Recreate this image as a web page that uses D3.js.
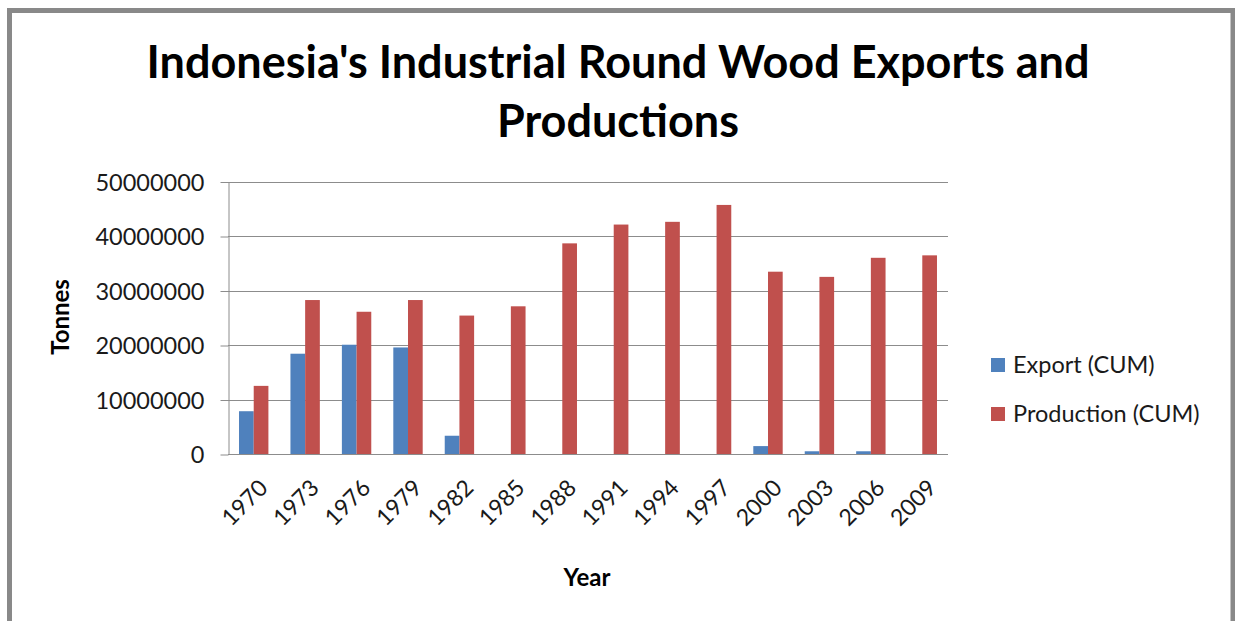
<!DOCTYPE html>
<html>
<head>
<meta charset="utf-8">
<script src="https://cdn.jsdelivr.net/npm/d3@7"></script>
<style>
  html, body { margin: 0; padding: 0; background: #fff; }
  svg { display: block; font-family: Lato, "Open Sans", sans-serif; }
</style>
</head>
<body>
<div id="chart"></div>
<script>
const years = ['1970', '1973', '1976', '1979', '1982', '1985', '1988', '1991', '1994', '1997', '2000', '2003', '2006', '2009'];
const exportCum = [7850000, 18400000, 20050000, 19550000, 3350000, 0, 0, 0, 0, 0, 1450000, 500000, 500000, 0];
const productionCum = [12500000, 28250000, 26100000, 28250000, 25400000, 27100000, 38650000, 42100000, 42600000, 45700000, 33450000, 32500000, 36000000, 36450000];
const seriesNames = ['Export (CUM)', 'Production (CUM)'];
const seriesColors = ['#4F81BD', '#C0504D'];
const yTicks = [0, 10000000, 20000000, 30000000, 40000000, 50000000];

const W = 1235, H = 621;
const plot = { left: 228, right: 948, top: 181.5, bottom: 454 };

const svg = d3.select('#chart')
  .append('svg')
  .attr('width', W)
  .attr('height', H);

svg.append('rect').attr('width', W).attr('height', H).attr('fill', '#fff');

// chart area border (bottom edge runs off the page)
svg.append('rect')
  .attr('x', 9.5).attr('y', 10.5)
  .attr('width', 1223.5).attr('height', 700)
  .attr('fill', 'none')
  .attr('stroke', '#898989')
  .attr('stroke-width', 5);

// title on two lines
const title = svg.append('text')
  .attr('text-anchor', 'middle')
  .attr('font-weight', 'bold')
  .attr('font-size', 45)
  .attr('fill', '#000');
title.append('tspan').attr('x', 618).attr('y', 78).text("Indonesia's Industrial Round Wood Exports and");
title.append('tspan').attr('x', 618).attr('y', 137).text('Productions');

const y = d3.scaleLinear()
  .domain([0, 50000000])
  .range([plot.bottom, plot.top]);

const x = d3.scaleBand()
  .domain(years)
  .range([plot.left, plot.right])
  .paddingInner(1.5 / 3.5)
  .paddingOuter(0.75 / 3.5);

const xSub = d3.scaleBand()
  .domain(seriesNames)
  .range([0, x.bandwidth()]);

// gridlines
svg.append('g')
  .selectAll('line')
  .data(yTicks.slice(1))
  .enter()
  .append('line')
  .attr('x1', plot.left).attr('x2', plot.right)
  .attr('y1', d => Math.round(y(d)) + 0.5)
  .attr('y2', d => Math.round(y(d)) + 0.5)
  .attr('stroke', '#8c8c8c')
  .attr('stroke-width', 1);

// y axis
const yAxis = svg.append('g')
  .attr('transform', `translate(${plot.left + 0.5},0.5)`)
  .call(d3.axisLeft(y).tickValues(yTicks).tickFormat(d3.format('d')).tickSize(8).tickSizeOuter(0).tickPadding(16));

yAxis.select('.domain').attr('stroke', '#8c8c8c');
yAxis.selectAll('.tick line').attr('stroke', '#8c8c8c');
yAxis.selectAll('.tick text')
  .attr('font-family', 'Lato, sans-serif')
  .attr('font-size', 23.5)
  .attr('fill', '#1a1a1a')
  .attr('dy', '0.36em');

// bars
const groups = svg.append('g')
  .selectAll('g')
  .data(years.map((yr, i) => ({ year: yr, values: [exportCum[i], productionCum[i]] })))
  .enter()
  .append('g')
  .attr('transform', d => `translate(${x(d.year)},0)`);

groups.selectAll('rect')
  .data(d => d.values.map((v, j) => ({ name: seriesNames[j], value: v, color: seriesColors[j] })))
  .enter()
  .append('rect')
  .attr('x', d => xSub(d.name))
  .attr('y', d => y(d.value))
  .attr('width', xSub.bandwidth())
  .attr('height', d => y(0) - y(d.value))
  .attr('fill', d => d.color);

// x axis line
svg.append('line')
  .attr('x1', plot.left).attr('x2', plot.right)
  .attr('y1', plot.bottom + 0.5).attr('y2', plot.bottom + 0.5)
  .attr('stroke', '#8c8c8c');

// rotated year labels
svg.append('g')
  .selectAll('text')
  .data(years)
  .enter()
  .append('text')
  .attr('transform', d => `translate(${x(d) + x.bandwidth() / 2 + 4},478) rotate(-45)`)
  .attr('text-anchor', 'end')
  .attr('dy', '0.7em')
  .attr('font-size', 23)
  .attr('fill', '#1a1a1a')
  .text(d => d);

// axis titles
svg.append('text')
  .attr('transform', 'translate(69,317) rotate(-90)')
  .attr('text-anchor', 'middle')
  .attr('font-weight', 'bold')
  .attr('font-size', 24)
  .attr('fill', '#000')
  .text('Tonnes');

svg.append('text')
  .attr('x', 587).attr('y', 586)
  .attr('text-anchor', 'middle')
  .attr('font-weight', 'bold')
  .attr('font-size', 24)
  .attr('fill', '#000')
  .text('Year');

// legend
const legend = svg.append('g')
  .selectAll('g')
  .data(seriesNames)
  .enter()
  .append('g')
  .attr('transform', (d, i) => `translate(991,${358 + i * 49})`);

legend.append('rect')
  .attr('width', 14).attr('height', 14)
  .attr('fill', (d, i) => seriesColors[i]);

legend.append('text')
  .attr('x', 22).attr('y', 15)
  .attr('font-size', 23.5)
  .attr('fill', '#1a1a1a')
  .text(d => d);
</script>
</body>
</html>
